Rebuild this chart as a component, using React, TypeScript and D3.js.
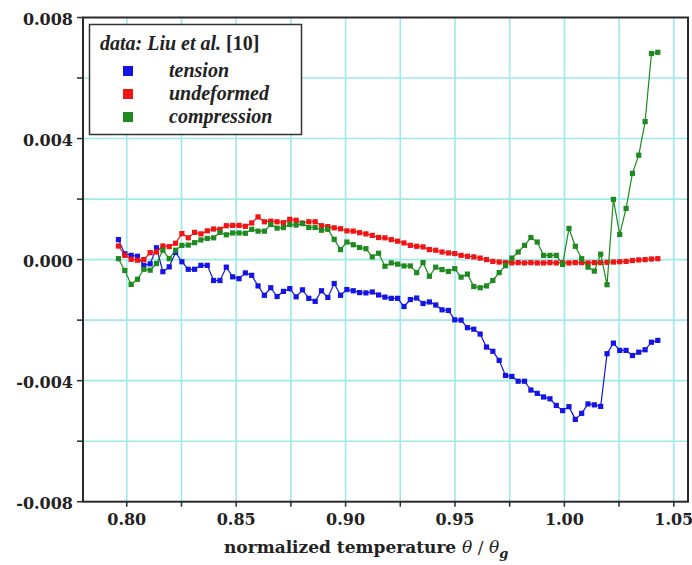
import React, { useEffect, useRef } from "react";
import * as d3 from "d3";

// normalized temperature θ/θg (one point per kelvin step)
const theta = [
  0.7962, 0.7991, 0.802, 0.8049, 0.8078, 0.8107, 0.8136, 0.8165, 0.8194, 0.8223,
  0.8252, 0.8281, 0.831, 0.8339, 0.8368, 0.8397, 0.8426, 0.8455, 0.8484, 0.8513,
  0.8542, 0.8571, 0.86, 0.8629, 0.8658, 0.8687, 0.8716, 0.8745, 0.8774, 0.8803,
  0.8832, 0.8861, 0.889, 0.8919, 0.8948, 0.8977, 0.9006, 0.9035, 0.9064, 0.9093,
  0.9122, 0.9151, 0.918, 0.9209, 0.9238, 0.9267, 0.9296, 0.9325, 0.9354, 0.9383,
  0.9412, 0.9441, 0.947, 0.9499, 0.9528, 0.9557, 0.9586, 0.9615, 0.9644, 0.9673,
  0.9702, 0.9731, 0.976, 0.9789, 0.9818, 0.9847, 0.9876, 0.9905, 0.9934, 0.9963,
  0.9992, 1.0021, 1.005, 1.0079, 1.0108, 1.0137, 1.0166, 1.0195, 1.0224, 1.0253,
  1.0282, 1.0311, 1.034, 1.0369, 1.0398, 1.0427,
];

// values in units of 1e-3
const tension = [
  0.66, 0.19, 0.14, 0.11, -0.19, -0.14, 0.39, -0.4, -0.24, 0.24,
  -0.07, -0.32, -0.32, -0.19, -0.19, -0.69, -0.69, -0.25, -0.57, -0.63,
  -0.44, -0.52, -0.87, -1.18, -0.93, -1.22, -1.05, -0.96, -1.23, -1.0,
  -1.28, -1.38, -1.03, -1.25, -0.79, -1.18, -0.99, -1.03, -1.09, -1.1,
  -1.07, -1.17, -1.24, -1.28, -1.28, -1.55, -1.32, -1.27, -1.45, -1.4,
  -1.5, -1.66, -1.68, -1.99, -2.0, -2.25, -2.3, -2.46, -2.89, -3.03,
  -3.33, -3.83, -3.86, -4.02, -4.02, -4.31, -4.42, -4.54, -4.6, -4.82,
  -4.99, -4.86, -5.28, -5.08, -4.77, -4.8, -4.85, -3.11, -2.76, -3.0,
  -3.0, -3.17, -3.06, -2.98, -2.73, -2.67,
];

const undeformed = [
  0.45, 0.14, 0.01, -0.02, 0.0, 0.23, 0.25, 0.45, 0.43, 0.54,
  0.86, 0.72, 0.9, 0.85, 0.95, 1.01, 1.0, 1.12, 1.13, 1.13,
  1.1, 1.21, 1.41, 1.25, 1.27, 1.25, 1.22, 1.33, 1.3, 1.21,
  1.25, 1.25, 1.12, 1.09, 1.05, 1.02, 0.95, 0.94, 0.89, 0.85,
  0.8, 0.73, 0.72, 0.66, 0.61, 0.55, 0.47, 0.44, 0.42, 0.33,
  0.31, 0.25, 0.22, 0.2, 0.14, 0.11, 0.09, 0.05, 0.0, -0.06,
  -0.08, -0.1, -0.11, -0.1, -0.11, -0.1, -0.11, -0.11, -0.1, -0.11,
  -0.1, -0.11, -0.1, -0.1, -0.11, -0.1, -0.1, -0.09, -0.08, -0.07,
  -0.06, -0.03, -0.01, 0.0, 0.02, 0.03,
];

const compression = [
  0.03, -0.36, -0.82, -0.65, -0.32, -0.35, -0.13, 0.31, 0.03, 0.31,
  0.47, 0.48, 0.56, 0.65, 0.7, 0.72, 0.9, 0.82, 0.88, 0.88,
  0.87, 1.0, 0.94, 0.94, 1.16, 1.04, 1.06, 1.16, 1.14, 1.19,
  1.06, 1.06, 0.97, 1.0, 0.67, 0.33, 0.58, 0.49, 0.4, 0.36,
  0.09, 0.21, -0.22, -0.11, -0.15, -0.21, -0.21, -0.43, -0.1, -0.55,
  -0.25, -0.33, -0.39, -0.3, -0.58, -0.48, -0.89, -0.93, -0.87, -0.69,
  -0.43, -0.2, 0.05, 0.25, 0.47, 0.73, 0.58, 0.14, 0.14, 0.14,
  -0.16, 1.03, 0.44, 0.03, -0.25, -0.38, 0.18, -0.83, 1.99, 0.83,
  1.69, 2.85, 3.45, 4.56, 6.81, 6.85,
];

const seriesNames = ["tension", "undeformed", "compression"];
const seriesColors = ["#1414e6", "#f01414", "#1f8a1f"];
const xTicks = [0.8, 0.85, 0.9, 0.95, 1.0, 1.05];
const xGrid = [0.8, 0.825, 0.85, 0.875, 0.9, 0.925, 0.95, 0.975, 1.0, 1.025, 1.05];
const yTicks = [-0.008, -0.004, 0, 0.004, 0.008];
const yGrid = [-0.008, -0.006, -0.004, -0.002, 0, 0.002, 0.004, 0.006, 0.008];

const App = () => {
  const ref = useRef<SVGSVGElement>(null);

  useEffect(() => {
    const svg = d3.select(ref.current);
    svg.selectAll("*").remove();

    const left = 83, right = 688, top = 17.5, bottom = 501.7;

    const x = d3.scaleLinear().domain([0.78, 1.0565]).range([left, right]);
    const y = d3.scaleLinear().domain([-0.008, 0.008]).range([bottom, top]);

    const gridColor = "#9ee9e9";

    // grid
    svg.append("g")
      .selectAll("line")
      .data(xGrid)
      .enter().append("line")
      .attr("x1", d => x(d)).attr("x2", d => x(d))
      .attr("y1", top).attr("y2", bottom)
      .attr("stroke", gridColor).attr("stroke-width", 1.6);

    svg.append("g")
      .selectAll("line")
      .data(yGrid.slice(1, -1))
      .enter().append("line")
      .attr("x1", left).attr("x2", right)
      .attr("y1", d => y(d)).attr("y2", d => y(d))
      .attr("stroke", gridColor).attr("stroke-width", 1.6);

    // series
    const all = [tension, undeformed, compression];
    all.forEach((vals, k) => {
      const pts = vals.map((v, i) => [theta[i], v * 1e-3] as [number, number]);
      const line = d3.line<[number, number]>().x(d => x(d[0])).y(d => y(d[1]));
      const g = svg.append("g");
      g.append("path")
        .attr("d", line(pts))
        .attr("fill", "none")
        .attr("stroke", seriesColors[k])
        .attr("stroke-width", 1.2);
      g.selectAll("rect")
        .data(pts)
        .enter().append("rect")
        .attr("x", d => x(d[0]) - 2.6)
        .attr("y", d => y(d[1]) - 2.6)
        .attr("width", 5.2)
        .attr("height", 5.2)
        .attr("fill", seriesColors[k]);
    });

    // frame
    svg.append("rect")
      .attr("x", left).attr("y", top)
      .attr("width", right - left).attr("height", bottom - top)
      .attr("fill", "none").attr("stroke", "#2a2a2a").attr("stroke-width", 2);

    // y ticks + labels
    svg.append("g")
      .selectAll("line")
      .data(yGrid)
      .enter().append("line")
      .attr("x1", left - 6).attr("x2", left)
      .attr("y1", d => y(d)).attr("y2", d => y(d))
      .attr("stroke", "#2a2a2a").attr("stroke-width", 1.5);

    svg.append("g")
      .selectAll("text")
      .data(yTicks)
      .enter().append("text")
      .attr("x", left - 10)
      .attr("y", d => y(d) + 7)
      .attr("text-anchor", "end")
      .attr("font-family", "DejaVu Serif")
      .attr("font-weight", "bold")
      .attr("font-size", 16)
      .attr("fill", "#222")
      .text(d => d3.format(".3f")(d).replace("−", "-"));

    // x ticks + labels
    svg.append("g")
      .selectAll("line")
      .data(xGrid)
      .enter().append("line")
      .attr("x1", d => x(d)).attr("x2", d => x(d))
      .attr("y1", bottom).attr("y2", bottom + 5)
      .attr("stroke", "#2a2a2a").attr("stroke-width", 1.5);

    svg.append("g")
      .selectAll("text")
      .data(xTicks)
      .enter().append("text")
      .attr("x", d => x(d))
      .attr("y", bottom + 23)
      .attr("text-anchor", "middle")
      .attr("font-family", "DejaVu Serif")
      .attr("font-weight", "bold")
      .attr("font-size", 16)
      .attr("fill", "#222")
      .text(d => d3.format(".2f")(d));

    // axis title
    const title = svg.append("text")
      .attr("x", 224)
      .attr("y", 553)
      .attr("text-anchor", "start")
      .attr("font-family", "DejaVu Serif")
      .attr("font-weight", "bold")
      .attr("font-size", 17)
      .attr("fill", "#222");
    title.append("tspan").text("normalized temperature ");
    title.append("tspan").attr("font-style", "italic").attr("font-weight", "normal").text("θ");
    title.append("tspan").attr("font-weight", "normal").text(" / ");
    title.append("tspan").attr("font-style", "italic").attr("font-weight", "normal").text("θ");
    title.append("tspan").attr("font-style", "italic").attr("font-size", 13).attr("dy", 5).text("g");

    // legend
    const lg = svg.append("g");
    lg.append("rect")
      .attr("x", 89.5).attr("y", 24.5)
      .attr("width", 212).attr("height", 110)
      .attr("fill", "white").attr("stroke", "#333").attr("stroke-width", 1.5);
    const lt = lg.append("text")
      .attr("x", 100).attr("y", 50)
      .attr("font-family", "Liberation Serif")
      .attr("font-weight", "bold")
      .attr("font-size", 20)
      .attr("fill", "#222");
    lt.append("tspan").attr("font-style", "italic").text("data: Liu et al. ");
    lt.append("tspan").text("[10]");

    seriesNames.forEach((name, k) => {
      const cy = 71 + k * 23;
      lg.append("rect")
        .attr("x", 123).attr("y", cy - 5)
        .attr("width", 10).attr("height", 10)
        .attr("fill", seriesColors[k]);
      lg.append("text")
        .attr("x", 169).attr("y", cy + 6)
        .attr("font-family", "Liberation Serif")
        .attr("font-weight", "bold")
        .attr("font-style", "italic")
        .attr("font-size", 20)
        .attr("fill", "#222")
        .text(name);
    });
  }, []);

  return (
    <svg
      ref={ref}
      width={692}
      height={565}
      style={{ position: "absolute", left: 0, top: 0, background: "white" }}
    />
  );
};

export default App;
